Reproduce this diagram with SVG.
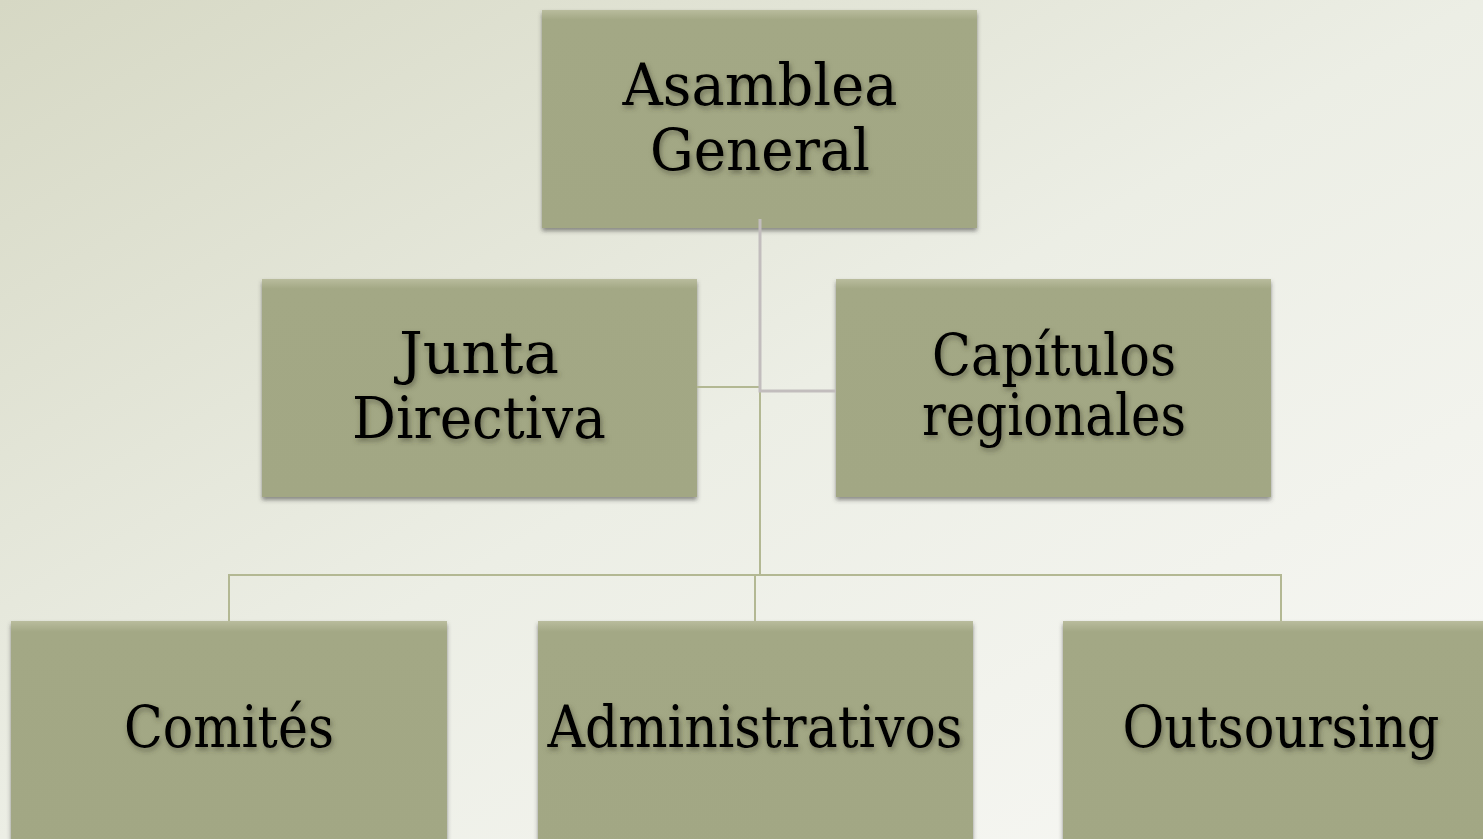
<svg xmlns="http://www.w3.org/2000/svg" width="1483" height="839" viewBox="0 0 1483 839">
<defs>
<linearGradient id="bg" x1="0" y1="0" x2="1" y2="1" gradientUnits="objectBoundingBox">
<stop offset="0" stop-color="#d6d8c4"/>
<stop offset="0.5" stop-color="#eceee5"/>
<stop offset="1" stop-color="#f8f8f5"/>
</linearGradient>
<linearGradient id="boxg" x1="0" y1="0" x2="0" y2="1">
<stop offset="0" stop-color="#b9bc9d"/>
<stop offset="0.045" stop-color="#a3a885"/>
<stop offset="1" stop-color="#a2a784"/>
</linearGradient>
<filter id="bsh" x="-5%" y="-5%" width="110%" height="115%">
<feDropShadow dx="0" dy="3" stdDeviation="2.2" flood-color="#3a3a3a" flood-opacity="0.55"/>
</filter>
<filter id="tsh" x="-10%" y="-20%" width="120%" height="150%">
<feDropShadow dx="1.5" dy="3" stdDeviation="2.5" flood-color="#3c4030" flood-opacity="0.55"/>
</filter>
</defs>
<style>
.box{fill:url(#boxg);filter:url(#bsh)}
.t{font-family:"DejaVu Serif","Liberation Serif",serif;font-size:57px;fill:#000;text-anchor:middle;filter:url(#tsh)}
.cg{stroke:#b3b893;stroke-width:2;fill:none}
.cp{stroke:#c2bdbd;stroke-width:3;fill:none}
</style>
<rect x="0" y="0" width="1483" height="839" fill="url(#bg)"/>
<g id="asamblea">
<rect class="box" x="542" y="10" width="435" height="218"/>
<text class="t" x="760" y="105" textLength="275" lengthAdjust="spacingAndGlyphs">Asamblea</text>
<text class="t" x="760" y="170" textLength="220" lengthAdjust="spacingAndGlyphs">General</text>
</g>
<g id="junta">
<rect class="box" x="262" y="279" width="435" height="218"/>
<text class="t" x="479" y="373" textLength="160" lengthAdjust="spacingAndGlyphs">Junta</text>
<text class="t" x="479" y="438" textLength="254" lengthAdjust="spacingAndGlyphs">Directiva</text>
</g>
<g id="capitulos">
<rect class="box" x="836" y="279" width="435" height="218"/>
<text class="t" x="1054" y="375" textLength="244" lengthAdjust="spacingAndGlyphs">Capítulos</text>
<text class="t" x="1054" y="435" textLength="264" lengthAdjust="spacingAndGlyphs">regionales</text>
</g>
<g id="comites">
<rect class="box" x="11" y="621" width="436" height="240"/>
<text class="t" x="229" y="747" textLength="210" lengthAdjust="spacingAndGlyphs">Comités</text>
</g>
<g id="administrativos">
<rect class="box" x="538" y="621" width="435" height="240"/>
<text class="t" x="755" y="747" textLength="415" lengthAdjust="spacingAndGlyphs">Administrativos</text>
</g>
<g id="outsoursing">
<rect class="box" x="1063" y="621" width="435" height="240"/>
<text class="t" x="1281" y="747" textLength="317" lengthAdjust="spacingAndGlyphs">Outsoursing</text>
</g>
<g id="connectors">
<path class="cg" d="M760 391 V575 M229 621 V575 H1281 V621 M755 575 V621 M697 387 H760"/>
<path class="cp" d="M760 219 V391 H836"/>
</g>
</svg>
